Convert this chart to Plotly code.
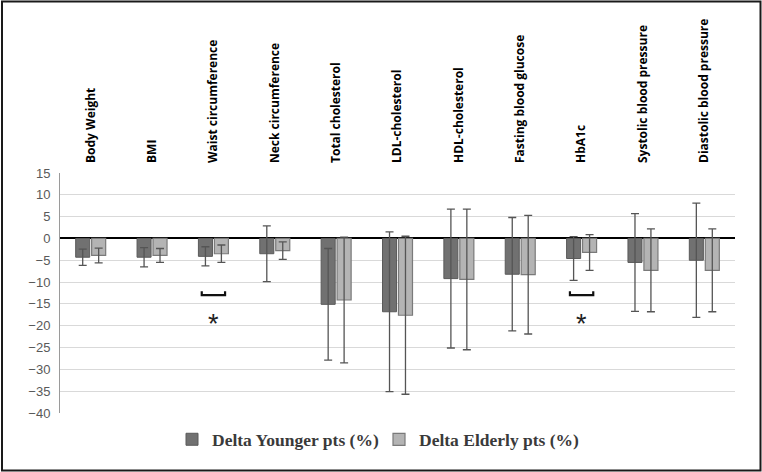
import plotly.graph_objects as go

categories = ["Body Weight", "BMI", "Waist circumference", "Neck circumference",
              "Total cholesterol", "LDL-cholesterol", "HDL-cholesterol",
              "Fasting blood glucose", "HbA1c", "Systolic blood pressure",
              "Diastolic blood pressure"]
younger = [-4.3, -4.3, -4.1, -3.5, -15.1, -16.8, -9.2, -8.2, -4.6, -5.5, -5.0]
younger_err = [1.85, 2.2, 2.2, 6.4, 12.8, 18.3, 15.9, 13.0, 5.0, 11.2, 13.1]
elderly = [-3.9, -3.9, -3.5, -2.8, -14.1, -17.6, -9.4, -8.3, -3.2, -7.3, -7.3]
elderly_err = [1.7, 1.6, 2.0, 2.0, 14.4, 18.1, 16.1, 13.6, 4.1, 9.5, 9.5]
sig_categories = ["Waist circumference", "HbA1c"]
sig_bracket_y = -13
sig_star_y = -19.5

W, H = 762, 472
ML, MR, MT, MB = 60, 27, 173, 59

fig = go.Figure()
fig.add_trace(go.Bar(
    x=categories, y=younger, name="Delta Younger pts (%)",
    marker=dict(color="#717171", line=dict(color="#5a5a5a", width=1)),
    error_y=dict(type="data", array=younger_err, color="#555555", thickness=1.3, width=4),
))
fig.add_trace(go.Bar(
    x=categories, y=elderly, name="Delta Elderly pts (%)",
    marker=dict(color="#b4b4b4", line=dict(color="#7a7a7a", width=1.2)),
    error_y=dict(type="data", array=elderly_err, color="#555555", thickness=1.3, width=4),
))

# significance brackets and stars
idx = {c: i for i, c in enumerate(categories)}
for c in sig_categories:
    i = idx[c]
    x0, x1 = i - 0.19, i + 0.19
    fig.add_trace(go.Scatter(
        x=[x0, x0, x1, x1], y=[sig_bracket_y + 0.9, sig_bracket_y, sig_bracket_y, sig_bracket_y + 0.9],
        xaxis="x2", mode="lines", line=dict(color="#111111", width=2.2),
        showlegend=False, hoverinfo="skip"))
    fig.add_annotation(x=i, y=sig_star_y, xref="x2", yref="y", text="*",
                       showarrow=False, font=dict(size=27, color="#222222",
                                                  family="Liberation Sans"))

# black frame around the figure
pw = W - ML - MR
ph = H - MT - MB
def px_x(p):
    return (p - ML) / pw
def px_y(p):
    return (H - MB - p) / ph
fig.add_shape(type="rect", xref="paper", yref="paper",
              x0=px_x(2), x1=px_x(760.5), y0=px_y(470.5), y1=px_y(1.5),
              line=dict(color="#1a1a1a", width=2), fillcolor="rgba(0,0,0,0)", layer="above")

fig.update_layout(
    width=W, height=H,
    margin=dict(l=ML, r=MR, t=MT, b=MB, autoexpand=False),
    paper_bgcolor="white", plot_bgcolor="white",
    barmode="group", bargap=0.48, bargroupgap=0.12,
    font=dict(family="Liberation Sans", color="#595959"),
    xaxis=dict(side="top", tickangle=-90, showgrid=False, showline=False, ticks="",
               tickfont=dict(family="Open Sans", size=12, color="black", weight="bold"),
               ticklabelstandoff=9, automargin=False),
    xaxis2=dict(overlaying="x", range=[-0.5, len(categories) - 0.5], visible=False),
    yaxis=dict(range=[-40, 15], dtick=5, showgrid=True, gridcolor="#d9d9d9", gridwidth=1,
               zeroline=True, zerolinecolor="black", zerolinewidth=2.2,
               showline=True, linecolor="#9a9a9a", linewidth=1, automargin=False,
               tickfont=dict(size=13, color="#595959"), ticks="", ticklabelstandoff=6),
    legend=dict(orientation="h", x=px_x(172), xanchor="left", y=-0.035, yanchor="top",
                font=dict(family="Liberation Serif", size=17.5, color="#3a3a3a", weight="bold"),
                itemwidth=30, entrywidth=162, entrywidthmode="pixels", traceorder="normal"),
    showlegend=True,
)

fig.write_html("out.html", config={"displayModeBar": False},
               post_script="document.body.style.margin='0px';")
